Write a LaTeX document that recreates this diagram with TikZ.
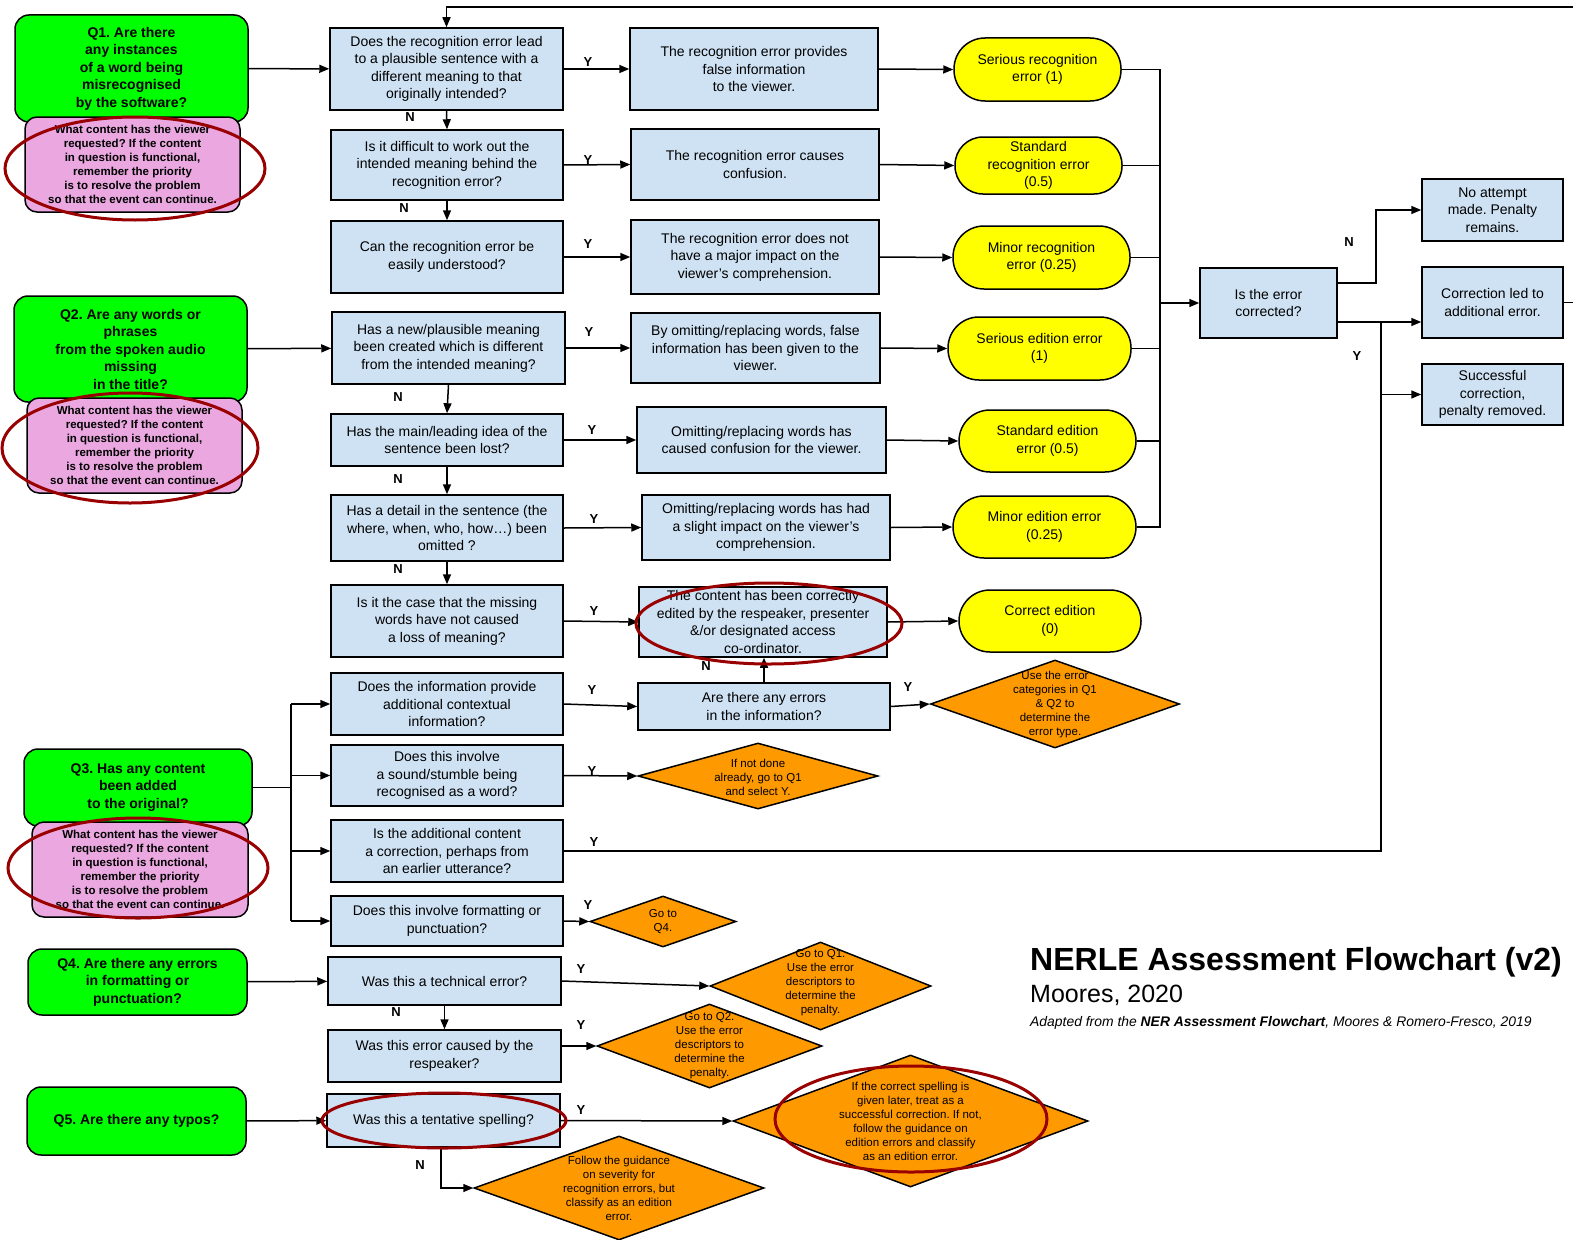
\documentclass[tikz,border=0pt]{standalone}
\usepackage{fontspec}
\setmainfont{Liberation Sans}
\usetikzlibrary{arrows.meta,shapes.geometric}
\definecolor{qgreen}{RGB}{0,255,0}
\definecolor{qpink}{RGB}{234,167,224}
\definecolor{qblue}{RGB}{207,226,243}
\definecolor{qyellow}{RGB}{255,255,0}
\definecolor{qorange}{RGB}{255,153,0}
\definecolor{qred}{RGB}{153,0,0}
\tikzset{
  basebox/.style={draw=black, line width=1.5pt, align=center, inner sep=1pt},
  qbox/.style={basebox, fill=qgreen, rounded corners=14pt, font=\fontsize{14}{17.5}\selectfont\bfseries},
  pbox/.style={basebox, fill=qpink, rounded corners=12pt, font=\fontsize{11.5}{14}\selectfont\bfseries},
  bbox/.style={basebox, fill=qblue, font=\fontsize{14}{17.5}\selectfont},
  ybox/.style={basebox, fill=qyellow, font=\fontsize{14}{17.5}\selectfont},
  dmd/.style={draw=black, line width=1.5pt, diamond, fill=qorange, inner sep=0pt},
  dtxt/.style={align=center, font=\fontsize{11.5}{14}\selectfont, inner sep=0pt},
  arr/.style={line width=1.5pt, -{Triangle[length=10pt,width=8pt]}},
  ln/.style={line width=1.5pt},
  lbl/.style={font=\fontsize{13}{13}\selectfont\bfseries, inner sep=0pt},
  redell/.style={draw=qred, line width=3pt},
}
\begin{document}
\frenchspacing
\begin{tikzpicture}[x=1pt,y=-1pt]
\useasboundingbox (0,0) rectangle (1573,1239);
\fill[white] (0,0) rectangle (1573,1239);

% ---------- question boxes (green) and notes (pink)
\node[qbox, minimum width=233pt, minimum height=107pt] (q1) at (131.5,68.5) {Q1. Are there\\any instances\\of a word being\\misrecognised\\by the software?};
\node[pbox, minimum width=215pt, minimum height=95pt] (p1) at (132.5,164.5) {What content has the viewer\\requested? If the content\\in question is functional,\\remember the priority\\is to resolve the problem\\so that the event can continue.};
\node[qbox, minimum width=233pt, minimum height=106pt] (q2) at (130.5,349) {Q2. Are any words or\\phrases\\from the spoken audio\\missing\\in the title?};
\node[pbox, minimum width=215pt, minimum height=95pt] (p2) at (134.5,445.5) {What content has the viewer\\requested? If the content\\in question is functional,\\remember the priority\\is to resolve the problem\\so that the event can continue.};
\node[qbox, minimum width=228pt, minimum height=77pt] (q3) at (138,787.5) {Q3. Has any content\\been added\\to the original?};
\node[pbox, minimum width=216pt, minimum height=95pt] (p3) at (140,869.5) {What content has the viewer\\requested? If the content\\in question is functional,\\remember the priority\\is to resolve the problem\\so that the event can continue.};
\node[qbox, minimum width=219pt, minimum height=66pt] (q4) at (137.5,982) {Q4. Are there any errors\\in formatting or\\punctuation?};
\node[qbox, minimum width=219pt, minimum height=68pt] (q5) at (136.5,1121) {Q5. Are there any typos?};

% ---------- first column
\node[bbox, minimum width=233pt, minimum height=82pt] (b1) at (446.5,69) {Does the recognition error lead\\to a plausible sentence with a\\different meaning to that\\originally intended?};
\node[bbox, minimum width=232pt, minimum height=70pt] (b2) at (447,165) {Is it difficult to work out the\\intended meaning behind the\\recognition error?};
\node[bbox, minimum width=232pt, minimum height=72pt] (b3) at (447,257) {Can the recognition error be\\easily understood?};
\node[bbox, minimum width=233pt, minimum height=72pt] (b4) at (448.5,348) {Has a new/plausible meaning\\been created which is different\\from the intended meaning?};
\node[bbox, minimum width=232pt, minimum height=52pt] (b5) at (447,440) {Has the main/leading idea of the\\sentence been lost?};
\node[bbox, minimum width=232pt, minimum height=66pt] (b6) at (447,528) {Has a detail in the sentence (the\\where, when, who, how…) been\\omitted ?};
\node[bbox, minimum width=232pt, minimum height=72pt] (b7) at (447,621) {Is it the case that the missing\\words have not caused\\a loss of meaning?};
\node[bbox, minimum width=232pt, minimum height=62pt] (b8) at (447,704) {Does the information provide\\additional contextual\\information?};
\node[bbox, minimum width=232pt, minimum height=61pt] (b9) at (447,775.5) {Does this involve\\a sound/stumble being\\recognised as a word?};
\node[bbox, minimum width=232pt, minimum height=62pt] (b10) at (447,851) {Is the additional content\\a correction, perhaps from\\an earlier utterance?};
\node[bbox, minimum width=232pt, minimum height=50pt] (b11) at (447,921) {Does this involve formatting or\\punctuation?};
\node[bbox, minimum width=233pt, minimum height=48pt] (b12) at (444.5,981) {Was this a technical error?};
\node[bbox, minimum width=233pt, minimum height=52pt] (b13) at (444.5,1056) {Was this error caused by the\\respeaker?};
\node[bbox, minimum width=233pt, minimum height=53pt] (b14) at (443.5,1120.5) {Was this a tentative spelling?};

% ---------- second column
\node[bbox, minimum width=248pt, minimum height=82pt] (c1) at (754,69) {The recognition error provides\\false information\\to the viewer.};
\node[bbox, minimum width=248pt, minimum height=71pt] (c2) at (755,164.5) {The recognition error causes\\confusion.};
\node[bbox, minimum width=248pt, minimum height=74pt] (c3) at (755,257) {The recognition error does not\\have a major impact on the\\viewer’s comprehension.};
\node[bbox, minimum width=249pt, minimum height=70pt] (c4) at (755.5,348) {By omitting/replacing words, false\\information has been given to the\\viewer.};
\node[bbox, minimum width=249pt, minimum height=66pt] (c5) at (761.5,440) {Omitting/replacing words has\\caused confusion for the viewer.};
\node[bbox, minimum width=248pt, minimum height=65pt] (c6) at (766,527.5) {Omitting/replacing words has had\\a slight impact on the viewer’s\\comprehension.};
\node[bbox, minimum width=248pt, minimum height=70pt, inner sep=0pt] (c7) at (763,622) {The content has been correctly\\edited by the respeaker, presenter\\\&/or designated access\\co-ordinator.};
\node[bbox, minimum width=252pt, minimum height=47pt] (c8) at (764,706.5) {Are there any errors\\in the information?};

% ---------- terminals (yellow)
\node[ybox, rounded corners=31pt, minimum width=167pt, minimum height=63pt] (y1) at (1037.5,69.5) {Serious recognition\\error (1)};
\node[ybox, rounded corners=28pt, minimum width=167pt, minimum height=57pt] (y2) at (1038.5,165.5) {Standard\\recognition error\\(0.5)};
\node[ybox, rounded corners=31pt, minimum width=177pt, minimum height=63pt] (y3) at (1041.5,257.5) {Minor recognition\\error (0.25)};
\node[ybox, rounded corners=31pt, minimum width=183pt, minimum height=63pt] (y4) at (1039.5,348.5) {Serious edition error\\(1)};
\node[ybox, rounded corners=31pt, minimum width=177pt, minimum height=62pt] (y5) at (1047.5,441) {Standard edition\\error (0.5)};
\node[ybox, rounded corners=31pt, minimum width=183pt, minimum height=62pt] (y6) at (1044.5,527) {Minor edition error\\(0.25)};
\node[ybox, rounded corners=31pt, minimum width=182pt, minimum height=62pt] (y7) at (1050,621) {Correct edition\\(0)};

% ---------- correction part
\node[bbox, minimum width=137pt, minimum height=70pt] (e) at (1268.5,303) {Is the error\\corrected?};
\node[bbox, minimum width=141pt, minimum height=62pt] (r1) at (1492.5,210) {No attempt\\made. Penalty\\remains.};
\node[bbox, minimum width=141pt, minimum height=71pt] (r2) at (1492.5,302.5) {Correction led to\\additional error.};
\node[bbox, minimum width=141pt, minimum height=61pt] (r3) at (1492.5,394.5) {Successful\\correction,\\penalty removed.};

% ---------- diamonds (orange)
\node[dmd, minimum width=249pt, minimum height=88pt] (d1) at (1055,704) {};
\node[dtxt] (d1t) at (1055,705) {Use the error\\categories in Q1\\\& Q2 to\\determine the\\error type.};
\node[dmd, minimum width=240pt, minimum height=66pt] (d2) at (758,776) {};
\node[dtxt] (d2t) at (758,777) {If not done\\already, go to Q1\\and select Y.};
\node[dmd, minimum width=146pt, minimum height=51pt] (d3) at (663,921.5) {};
\node[dtxt] (d3t) at (663,922) {Go to\\Q4.};
\node[dmd, minimum width=221pt, minimum height=88pt] (d4) at (820.5,986) {};
\node[dtxt] (d4t) at (820.5,983) {Go to Q1.\\Use the error\\descriptors to\\determine the\\penalty.};
\node[dmd, minimum width=225pt, minimum height=84pt] (d5) at (709.5,1046) {};
\node[dtxt] (d5t) at (709.5,1046) {Go to Q2.\\Use the error\\descriptors to\\determine the\\penalty.};
\node[dmd, minimum width=355pt, minimum height=132pt] (d6) at (910.5,1121) {};
\node[dtxt] (d6t) at (910.5,1121) {If the correct spelling is\\given later, treat as a\\successful correction. If not,\\follow the guidance on\\edition errors and classify\\as an edition error.};
\node[dmd, minimum width=290pt, minimum height=104pt] (d7) at (619,1188) {};
\node[dtxt] (d7t) at (619,1188) {Follow the guidance\\on severity for\\recognition errors, but\\classify as an edition\\error.};

% ---------- connectors: questions to first column
\draw[arr] (q1) -- (b1);
\draw[arr] (q2) -- (b4);
\coordinate (bus3) at (291,787.5);
\draw[ln] (q3.east) -- (bus3);
\draw[ln] (bus3 |- b8.west) -- (bus3 |- b11.west);
\draw[arr] (bus3 |- b8.west) -- (b8.west);
\draw[arr] (bus3 |- b9.west) -- (b9.west);
\draw[arr] (bus3 |- b10.west) -- (b10.west);
\draw[arr] (bus3 |- b11.west) -- (b11.west);
\draw[arr] (q4) -- (b12);
\draw[arr] (q5) -- (b14);

% N arrows down the first column
\draw[arr] (b1.south) -- (b2.north);
\draw[arr] (b2.south) -- (b3.north);
\draw[arr] (b4.south) -- (b5.north);
\draw[arr] (b5.south) -- (b6.north);
\draw[arr] (b6.south) -- (b7.north);
\draw[arr] (b12.south) -- (b13.north);
\draw[arr] ([xshift=-2.5pt]b14.south) |- (d7.west);

% Y arrows to second column
\draw[arr] (b1.east) -- (c1.west);
\draw[arr] (b2.east) -- (c2.west);
\draw[arr] (b3.east) -- (c3.west);
\draw[arr] (b4.east) -- (c4.west);
\draw[arr] (b5.east) -- (c5.west);
\draw[arr] (b6.east) -- (c6.west);
\draw[arr] (b7.east) -- (c7.west);
\draw[arr] (b8.east) -- (c8.west);
\draw[arr] (b9.east) -- (d2.west);
\draw[arr] (b11.east) -- (d3.west);
\draw[arr] (b12.east) -- (d4.west);
\draw[arr] (b13.east |- d5.west) -- (d5.west);
\draw[arr] (b14.east) -- (d6.west);
\draw[arr] (c8.north) -- (c8.north |- c7.south);
\draw[arr] (c8.east) -- (d1.west);

% second column to terminals
\draw[arr] (c1.east) -- (y1.west);
\draw[arr] (c2.east) -- (y2.west);
\draw[arr] (c3.east) -- (y3.west);
\draw[arr] (c4.east) -- (y4.west);
\draw[arr] (c5.east) -- (y5.west);
\draw[arr] (c6.east) -- (y6.west);
\draw[arr] (c7.east) -- (y7.west);

% terminals to "Is the error corrected?"
\coordinate (ybus) at (1160,303);
\draw[ln] (y1.east) -- (y1.east -| ybus) -- (y6.east -| ybus) -- (y6.east);
\draw[ln] (y2.east) -- (y2.east -| ybus);
\draw[ln] (y3.east) -- (y3.east -| ybus);
\draw[ln] (y4.east) -- (y4.east -| ybus);
\draw[ln] (y5.east) -- (y5.east -| ybus);
\draw[arr] (ybus) -- (e.west);

% correction outcomes
\draw[arr] ([yshift=20pt]e.east) -- ++(38,0) |- (r1.west);
\coordinate (yj) at (1381,322);
\draw[arr] ([yshift=-19pt]e.east) -- ([yshift=-19pt]e.east -| r2.west);
\draw[ln] (yj) -- (yj |- b10.east) -- (b10.east);
\draw[arr] (yj |- r3.west) -- (r3.west);
\coordinate (tr) at (1576,7);
\draw[arr] (r2.east) -- (r2.east -| tr) -- (tr) -- (tr -| b1.north) -- (b1.north);

% ---------- Y / N labels
\node[lbl] (l1) at (588,62) {Y};
\node[lbl] (l2) at (588,160) {Y};
\node[lbl] (l3) at (588,244) {Y};
\node[lbl] (l4) at (589,332) {Y};
\node[lbl] (l5) at (592,430) {Y};
\node[lbl] (l6) at (594,519) {Y};
\node[lbl] (l7) at (594,611) {Y};
\node[lbl] (l8) at (592,690) {Y};
\node[lbl] (l9) at (592,771) {Y};
\node[lbl] (l10) at (594,842) {Y};
\node[lbl] (l11) at (588,905) {Y};
\node[lbl] (l12) at (581,969) {Y};
\node[lbl] (l13) at (581,1025) {Y};
\node[lbl] (l14) at (581,1110) {Y};
\node[lbl] (l15) at (908,687) {Y};
\node[lbl] (l16) at (1357,356) {Y};
\node[lbl] (n1) at (410,117) {N};
\node[lbl] (n2) at (404,208) {N};
\node[lbl] (n3) at (398,397) {N};
\node[lbl] (n4) at (398,479) {N};
\node[lbl] (n5) at (398,569) {N};
\node[lbl] (n6) at (706,666) {N};
\node[lbl] (n7) at (396,1012) {N};
\node[lbl] (n8) at (420,1165) {N};
\node[lbl] (n9) at (1349,242) {N};

% ---------- title
\node[anchor=base west, inner sep=0pt, font=\fontsize{32}{32}\selectfont\bfseries] (title) at (1030,970) {NERLE Assessment Flowchart (v2)};
\node[anchor=base west, inner sep=0pt, font=\fontsize{25}{25}\selectfont] (author) at (1030,1002) {Moores, 2020};
\node[anchor=base west, inner sep=0pt, font=\fontsize{13.9}{14}\selectfont\itshape] (credit) at (1030,1026) {Adapted from the \textbf{NER Assessment Flowchart}, Moores \& Romero-Fresco, 2019};

% ---------- red highlight ellipses
\draw[redell] (135,168.5) ellipse [x radius=130, y radius=51.5];
\draw[redell] (130,448) ellipse [x radius=128, y radius=55];
\draw[redell] (138,868) ellipse [x radius=130, y radius=50];
\draw[redell] (769,623.5) ellipse [x radius=133, y radius=40.5];
\draw[redell] (444,1120.5) ellipse [x radius=122, y radius=27.5];
\draw[redell] (911,1119) ellipse [x radius=136, y radius=53];
\end{tikzpicture}
\end{document}
